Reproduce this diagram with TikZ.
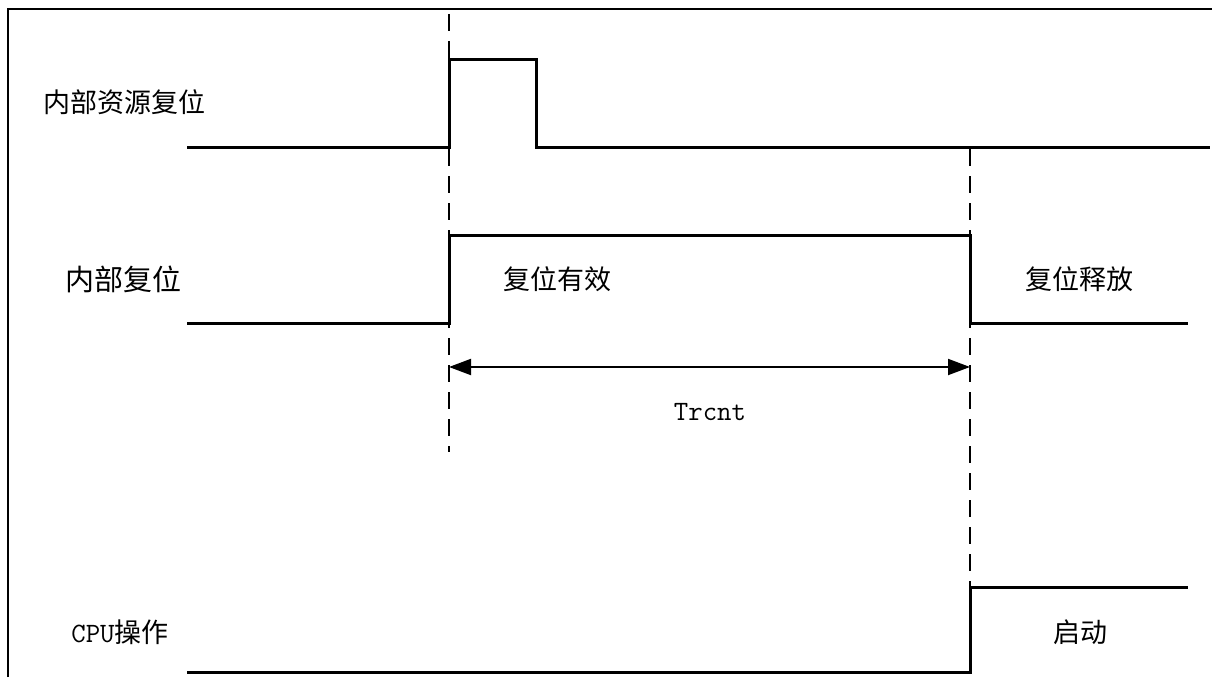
\documentclass[tikz,border=0pt]{standalone}
\usepackage{fontspec}
\newfontfamily\cjk{Noto Sans CJK SC}
\usetikzlibrary{arrows.meta}
\begin{document}
\begin{tikzpicture}[x=1pt,y=-1pt,
  sig/.style={line width=3pt, line join=miter},
  guide/.style={line width=1.8pt, dash pattern=on 17pt off 10pt},
  frameline/.style={line width=2.5pt},
  dim/.style={line width=2pt, {Triangle[length=22pt,width=16pt]}-{Triangle[length=22pt,width=16pt]}},
  lbl/.style={inner sep=0pt, font=\cjk\fontsize{27}{30}\selectfont},
  biglbl/.style={inner sep=0pt, font=\cjk\fontsize{29}{32}\selectfont},
  monolbl/.style={inner sep=0pt, font=\ttfamily\fontsize{28}{32}\selectfont}
]
\useasboundingbox (0,0) rectangle (1212,677);
% frame
\draw[frameline] (8,677) -- (8,9) -- (1212,9);

% signal 1: internal resource reset
\coordinate (a0) at (187,147);
\coordinate (a1) at (449,147);
\coordinate (a2) at (449,60);
\coordinate (a3) at (536,60);
\coordinate (a4) at (536,147);
\coordinate (a5) at (1210,147);
\draw[sig] (a0) -- (a1) -- (a2) -- (a3) -- (a4) -- (a5);

% signal 2: internal reset
\coordinate (b0) at (187,323);
\coordinate (b1) at (449,323);
\coordinate (b2) at (449,235);
\coordinate (b3) at (970,235);
\coordinate (b4) at (970,323);
\coordinate (b5) at (1188,323);
\draw[sig] (b0) -- (b1) -- (b2) -- (b3) -- (b4) -- (b5);

% signal 3: CPU operation
\coordinate (c0) at (187,672);
\coordinate (c1) at (970,672);
\coordinate (c2) at (970,587);
\coordinate (c3) at (1188,587);
\draw[sig] (c0) -- (c1) -- (c2) -- (c3);

% guides
\coordinate (g1t) at (449,14);
\coordinate (g1b) at (449,452);
\coordinate (g2t) at (970,149);
\coordinate (g2b) at (970,587);
\draw[guide] (g1t) -- (g1b);
\draw[guide] (g2t) -- (g2b);

% dimension arrow
\coordinate (d1) at (449,367);
\coordinate (d2) at (970,367);
\draw[dim] (d1) -- (d2);

% labels
\node[lbl] (l1) at (124,102) {内部资源复位};
\node[biglbl] (l2) at (123,279) {内部复位};
\node[lbl] (l3) at (557,279) {复位有效};
\node[lbl] (l4) at (1079,279) {复位释放};
\node[monolbl] (l5) at (710,412) {Trcnt};
\node[lbl] (l6) at (120,632) {{\ttfamily\fontsize{28}{32}\selectfont CPU}操作};
\node[lbl] (l7) at (1080,632) {启动};
\end{tikzpicture}
\end{document}
